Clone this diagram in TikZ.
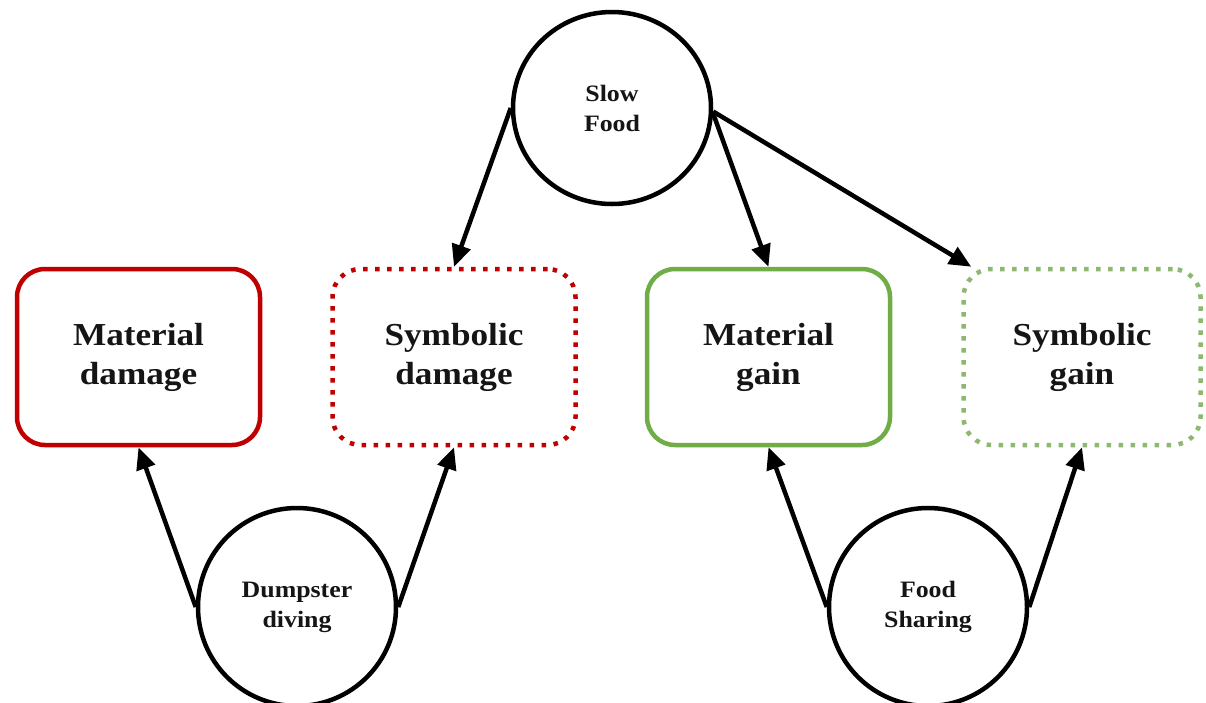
\documentclass[tikz,border=0pt]{standalone}
\usepackage{fontspec}
\setmainfont{Liberation Serif}
\newfontfamily\lab[FakeStretch=1.1]{Liberation Serif}
\usetikzlibrary{arrows.meta,shapes.geometric,calc}
\definecolor{dred}{HTML}{C00000}
\definecolor{dgreen}{HTML}{70AD47}
\definecolor{lgreen}{HTML}{8DB872}
\definecolor{txt}{HTML}{151515}
\begin{document}
\begin{tikzpicture}[x=1pt,y=-1pt,
  box/.style={rectangle, rounded corners=28pt, line width=4.5pt, minimum width=243pt,
    minimum height=176pt, align=center, inner sep=0pt, text=txt,
    font=\lab\bfseries\fontsize{32}{39}\selectfont},
  solidbox/.style={box},
  dotbox/.style={box, dash pattern=on 4.5pt off 7.5pt},
  circ/.style={circle, draw=black, line width=4.5pt, minimum size=198pt, inner sep=0pt,
    align=center, text=txt, font=\lab\bfseries\fontsize{23.5}{30}\selectfont},
  arr/.style={line width=4.5pt, draw=black, -{Triangle[length=22pt,width=19pt]}}]
\useasboundingbox[fill=white] (0,0) rectangle (1206,702);

\node[circ, ellipse, minimum width=198pt, minimum height=192pt] (SF) at (612,108) {Slow\\Food};
\node[circ] (DD) at (297,607) {Dumpster\\diving};
\node[circ] (FS) at (928,607) {Food\\Sharing};

\node[solidbox, draw=dred] (MD) at (138.5,357) {Material\\damage};
\node[dotbox, draw=dred] (SD) at (454,357) {Symbolic\\damage};
\node[solidbox, draw=dgreen] (MG) at (768.5,357) {Material\\gain};
\node[dotbox, draw=lgreen, minimum width=237pt] (SG) at (1082,357) {Symbolic\\gain};

\draw[arr] (SF.west) -- (SD.north);
\draw[arr] (SF.-3) -- (MG.north);
\draw[arr] (SF.-2) -- ($(SG.north west)+(10,0)$);
\draw[arr] (DD.west) -- (MD.south);
\draw[arr] (DD.east) -- (SD.south);
\draw[arr] (FS.west) -- (MG.south);
\draw[arr] (FS.east) -- (SG.south);
\end{tikzpicture}
\end{document}
